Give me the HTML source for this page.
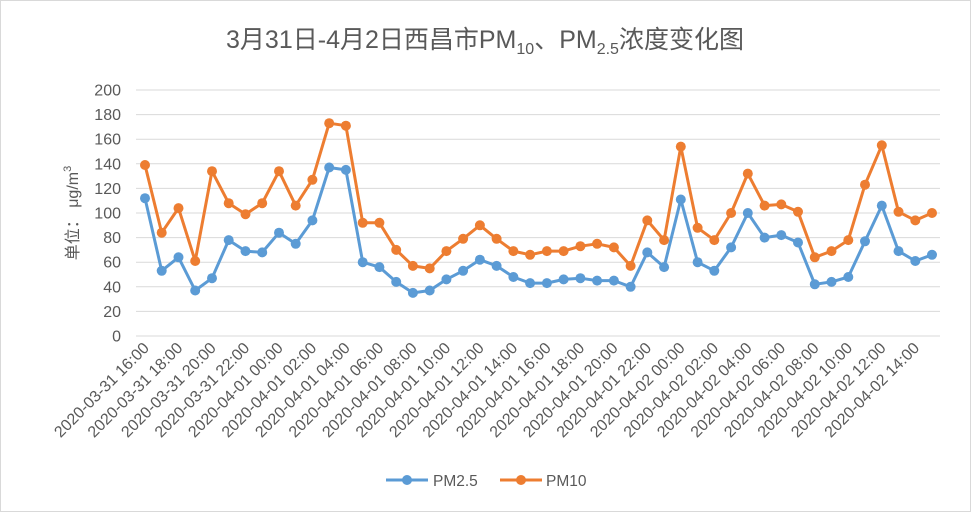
<!DOCTYPE html>
<html><head><meta charset="utf-8"><style>
body{margin:0;background:#fff;}
svg{display:block;font-family:"Liberation Sans","Noto Sans CJK SC",sans-serif;}
</style></head><body>
<svg id="s" width="971" height="512" xmlns="http://www.w3.org/2000/svg">
<rect x="0.5" y="0.5" width="970" height="511" fill="#fff" stroke="#d9d9d9"/>
<text x="485" y="48" text-anchor="middle" font-size="25" fill="#595959" font-family="Liberation Sans,Noto Sans CJK SC,sans-serif">3月31日-4月2日西昌市PM<tspan font-size="16" dy="6">10</tspan><tspan dy="-6">、PM</tspan><tspan font-size="16" dy="6">2.5</tspan><tspan dy="-6">浓度变化图</tspan></text>
<text transform="translate(78,213) rotate(-90)" text-anchor="middle" font-size="16" fill="#595959">单位：  μg/m<tspan font-size="11" dy="-7">3</tspan></text>
<g id="g"></g>
<g>
<line x1="386" y1="480" x2="428" y2="480" stroke="#5B9BD5" stroke-width="3"/><circle cx="407" cy="480" r="5" fill="#5B9BD5"/>
<text x="433" y="486" font-size="15.5" fill="#595959">PM2.5</text>
<line x1="500" y1="480" x2="542" y2="480" stroke="#ED7D31" stroke-width="3"/><circle cx="521" cy="480" r="5" fill="#ED7D31"/>
<text x="546" y="486" font-size="15.5" fill="#595959">PM10</text>
</g>
</svg>
<script>
var pm25=[112,53,64,37,47,78,69,68,84,75,94,137,135,60,56,44,35,37,46,53,62,57,48,43,43,46,47,45,45,40,68,56,111,60,53,72,100,80,82,76,42,44,48,77,106,69,61,66];
var pm10=[139,84,104,61,134,108,99,108,134,106,127,173,171,92,92,70,57,55,69,79,90,79,69,66,69,69,73,75,72,57,94,78,154,88,78,100,132,106,107,101,64,69,78,123,155,101,94,100];
var h='';
function Y(v){return 336-v*1.23;}
function X(i){return 145+i*(787/47);}
for(var v=0;v<=200;v+=20){var y=Y(v);h+='<line x1="136" x2="940" y1="'+y+'" y2="'+y+'" stroke="#d9d9d9" stroke-width="1"/>';
h+='<text x="121" y="'+(y+5.5)+'" text-anchor="end" font-size="16" fill="#595959">'+v+'</text>';}
for(var i=0;i<48;i+=2){var t=new Date(Date.UTC(2020,2,31,16+i));
function p(n){return (n<10?'0':'')+n;}
var s='2020-'+p(t.getUTCMonth()+1)+'-'+p(t.getUTCDate())+' '+p(t.getUTCHours())+':00';
var x=X(i)+5;h+='<text transform="translate('+x+',349) rotate(-45)" text-anchor="end" font-size="16" fill="#595959">'+s+'</text>';}
function ser(d,c){var pts=d.map(function(v,i){return X(i).toFixed(1)+','+Y(v).toFixed(1)}).join(' ');
h+='<polyline points="'+pts+'" fill="none" stroke="'+c+'" stroke-width="3" stroke-linejoin="round"/>';
d.forEach(function(v,i){h+='<circle cx="'+X(i).toFixed(1)+'" cy="'+Y(v).toFixed(1)+'" r="5" fill="'+c+'"/>';});}
ser(pm25,'#5B9BD5');ser(pm10,'#ED7D31');
document.getElementById('g').innerHTML=h;
</script>
</body></html>
